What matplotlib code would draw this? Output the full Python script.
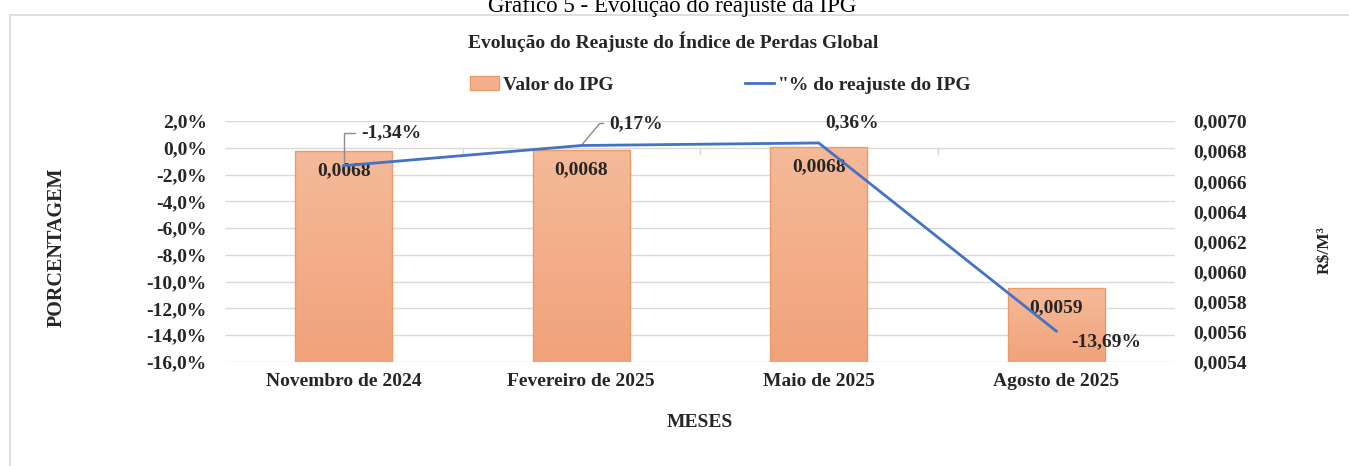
import matplotlib
matplotlib.use("Agg")
import matplotlib.pyplot as plt
import numpy as np
from matplotlib.patches import Rectangle
from matplotlib.colors import LinearSegmentedColormap
from matplotlib.lines import Line2D
from matplotlib.ticker import FuncFormatter

# dados
meses = ["Novembro de 2024", "Fevereiro de 2025", "Maio de 2025", "Agosto de 2025"]
valor_ipg = [0.00680, 0.00681, 0.00683, 0.00589]
reajuste_pct = [-1.34, 0.17, 0.36, -13.69]
rotulos_ipg = ["0,0068", "0,0068", "0,0068", "0,0059"]
rotulos_pct = ["-1,34%", "0,17%", "0,36%", "-13,69%"]

W, H = 1349, 466
FS = 14
COR_TXT = "#262626"
plt.rcParams["font.family"] = ["Liberation Serif", "DejaVu Serif"]
plt.rcParams["font.weight"] = "bold"

fig = plt.figure(figsize=(W / 100, H / 100), dpi=100)
ax = fig.add_axes([225 / W, 1 - 362 / H, 950 / W, 241 / H])
ax2 = ax.twinx()
ax.set_zorder(2)
ax2.set_zorder(1)
ax.patch.set_visible(False)

x = np.arange(len(meses))
ymin_l, ymax_l = -16, 2
ymin_r, ymax_r = 0.0054, 0.0070

# linhas de grade (escala da esquerda) atras das barras
grid_vals = np.arange(ymin_l, ymax_l + 0.1, 2)
ax2.hlines(grid_vals, 0, 1, transform=ax.get_yaxis_transform(), color="#D9D9D9", lw=1, zorder=0)

# barras com gradiente
cmap = LinearSegmentedColormap.from_list("laranja", ["#F1A27A", "#F5BA99"])
grad = np.linspace(0, 1, 256).reshape(-1, 1)
largura = 0.41
bars = ax2.bar(x, np.array(valor_ipg) - ymin_r, bottom=ymin_r, width=largura,
               color="none", edgecolor="#EC9A68", lw=1, zorder=3)
for b in bars:
    x0, y0 = b.get_x(), b.get_y()
    im = ax2.imshow(grad, extent=[x0, x0 + b.get_width(), y0, y0 + b.get_height()],
                    origin="lower", aspect="auto", cmap=cmap, zorder=2)
    im.set_clip_path(b)
for xi, v, lab in zip(x, valor_ipg, rotulos_ipg):
    ax2.annotate(lab, (xi, v), xytext=(0, -20), textcoords="offset pixels",
                 ha="center", va="center", fontsize=FS, color=COR_TXT, zorder=5)

# linha do reajuste
ax.plot(x, reajuste_pct, color="#4472C4", lw=2, zorder=4)

# eixo horizontal em 0 com marcas entre categorias
for xm in [0.5, 1.5, 2.5]:
    ax.plot([xm, xm], [0, -0.5], color="#D9D9D9", lw=1, zorder=1)

offs = [(17, 33), (28, 22), (33, 20), (50, -11)]
for i, (xi, v, lab) in enumerate(zip(x, reajuste_pct, rotulos_pct)):
    if i == 0:
        ax.annotate(lab, (xi, v), xytext=offs[i], textcoords="offset pixels",
                    ha="left", va="center", fontsize=FS, color=COR_TXT,
                    arrowprops=dict(arrowstyle="-", color="#8C8C8C", lw=1, shrinkA=2, shrinkB=0,
                                    connectionstyle="angle,angleA=0,angleB=90,rad=0"))
    elif i == 1:
        ax.annotate(lab, (xi, v), xytext=offs[i], textcoords="offset pixels",
                    ha="left", va="center", fontsize=FS, color=COR_TXT,
                    arrowprops=dict(arrowstyle="-", color="#8C8C8C", lw=1, shrinkA=2, shrinkB=0,
                                    connectionstyle="angle,angleA=0,angleB=50,rad=0"))
    else:
        ax.annotate(lab, (xi, v), xytext=offs[i], textcoords="offset pixels",
                    ha="center", va="center", fontsize=FS, color=COR_TXT)

ax.set_xlim(-0.5, 3.5)
ax.set_ylim(ymin_l, ymax_l)
ax2.set_ylim(ymin_r, ymax_r)
ax.set_yticks(grid_vals)
ax2.set_yticks(np.arange(ymin_r, ymax_r + 1e-6, 0.0002))
ax.yaxis.set_major_formatter(FuncFormatter(lambda v, p: f"{v:.1f}%".replace(".", ",")))
ax2.yaxis.set_major_formatter(FuncFormatter(lambda v, p: f"{v:.4f}".replace(".", ",")))
ax.set_xticks(x)
ax.set_xticklabels(meses)

for a in (ax, ax2):
    for s in a.spines.values():
        s.set_visible(False)
    a.tick_params(length=0, labelsize=FS, labelcolor=COR_TXT)
ax.tick_params(axis="y", pad=13)
ax2.tick_params(axis="y", pad=13)
ax.tick_params(axis="x", pad=8)

ax.set_xlabel("MESES", fontsize=FS, fontweight="bold", color=COR_TXT, labelpad=17)
fig.text(57 / W, 1 - 247 / H, "PORCENTAGEM", rotation=90, ha="center", va="center",
         fontsize=14.5, color=COR_TXT)
fig.text(1325 / W, 1 - 250 / H, "R$/M³", rotation=90, ha="center", va="center",
         fontsize=12.5, color=COR_TXT)

# titulos
fig.text(0.498, 1 - 12 / H, "Gráfico 5 - Evolução do reajuste da IPG", ha="center",
         va="baseline", fontsize=16.5, fontweight="normal", color="black")
fig.text(0.499, 1 - 42 / H, "Evolução do Reajuste do Índice de Perdas Global", ha="center",
         va="center", fontsize=FS, color=COR_TXT)

# legenda
h_bar = Rectangle((0, 0), 1, 1, facecolor="#F4B08C", edgecolor="#EC9A68")
h_lin = Line2D([0], [0], color="#4472C4", lw=2)
fig.legend(handles=[h_bar], labels=["Valor do IPG"], loc="center left",
           bbox_to_anchor=(452 / W, 1 - 85 / H), frameon=False, fontsize=FS,
           handlelength=1.5, handletextpad=0.2, labelcolor=COR_TXT)
fig.legend(handles=[h_lin], labels=['"% do reajuste do IPG'], loc="center left",
           bbox_to_anchor=(727 / W, 1 - 85 / H), frameon=False, fontsize=FS,
           handlelength=1.5, handletextpad=0.2, labelcolor=COR_TXT)

# moldura externa
fig.add_artist(Rectangle((10 / W, -0.1), 1.2, 1.1 - 15 / H, transform=fig.transFigure,
                         fill=False, edgecolor="#D9D9D9", lw=1.2, clip_on=False))

fig.savefig("out.png", dpi=100)
